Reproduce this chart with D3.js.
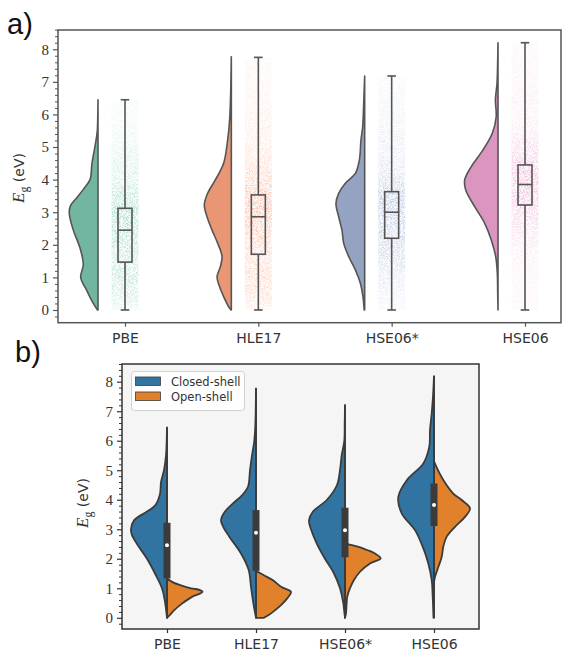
<!DOCTYPE html>
<html><head><meta charset="utf-8">
<script src="https://cdn.jsdelivr.net/npm/d3@7"></script>
<style>
html,body{margin:0;padding:0;background:#fff;}
svg{display:block;}
</style></head>
<body>
<svg id="chart" width="569" height="654"></svg>
<script>
// ---------------- DATA ----------------
const categories = ["PBE", "HLE17", "HSE06*", "HSE06"];
const yTicks = [0, 1, 2, 3, 4, 5, 6, 7, 8];
const hueLabels = ["Closed-shell", "Open-shell"];

// Panel a: kernel density (relative units) per functional
const pbeV  = [0, 0.2, 0.6, 1.0, 1.4, 1.9, 2.45, 2.95, 3.2, 3.45, 3.7, 4.0, 4.5, 4.9, 5.2, 5.5, 6.0, 6.45];
const pbeD  = [0.5, 4.7, 11.3, 17.3, 14.7, 18, 24.7, 28.7, 27.5, 21, 14.7, 8, 6, 3.7, 2, 0.7, 0.2, 0];
const hleV  = [0, 0.1, 0.41, 0.71, 1.02, 1.33, 1.64, 2.05, 2.45, 2.86, 3.22, 3.58, 3.99, 4.5, 5.21, 5.83, 6.5, 7.2, 7.77];
const hleD  = [0.3, 2.7, 7.7, 11.7, 14.3, 11, 9.3, 13.7, 19.3, 24.3, 27, 23.7, 16, 7.7, 3.7, 1.7, 0.8, 0.3, 0];
const hseSV = [0, 0.41, 0.82, 1.23, 1.64, 2.05, 2.45, 2.86, 3.27, 3.58, 3.89, 4.19, 4.6, 5.21, 5.62, 6.3, 7.18];
const hseSD = [0.5, 1.7, 4.3, 9.3, 16, 21, 22.7, 26, 28.7, 26, 19.3, 9.3, 5.3, 3.7, 2, 1, 0];
const hseV  = [0, 0.5, 1.13, 1.64, 2.15, 2.66, 3.17, 3.68, 3.99, 4.4, 4.91, 5.42, 5.93, 6.44, 6.95, 7.5, 8.2];
const hseD  = [0, 0.3, 0.7, 2.3, 6.7, 13.3, 23.3, 32.3, 33.3, 26.7, 15, 5.7, 1.8, 2.6, 1, 0.4, 0];

// Panel a: box statistics
const minA = [0, 0, 0, 0];
const q1A  = [1.47, 1.71, 2.2, 3.22];
const medA = [2.45, 2.86, 3.0, 3.85];
const q3A  = [3.12, 3.53, 3.63, 4.45];
const maxA = [6.45, 7.75, 7.18, 8.2];

// Panel b: split violins (closed-shell / open-shell)
const pbeClosedV = [0, 0.3, 0.6, 1.0, 1.5, 2.0, 2.5, 2.8, 3.0, 3.3, 3.6, 3.8, 4.2, 4.6, 5.0, 5.5, 6.0, 6.45];
const pbeClosedD = [0, 1, 2.3, 5, 12, 20, 30, 35, 36, 33, 20, 12, 7, 6, 3, 1, 0.3, 0];
const pbeOpenV   = [0, 0.1, 0.25, 0.48, 0.71, 0.82, 0.88, 0.94, 1.0, 1.1, 1.2, 1.33];
const pbeOpenD   = [0, 3, 7, 15, 25, 33, 35.6, 33, 24, 14, 6, 0];
const hleClosedV = [0, 0.5, 1.05, 1.62, 2.18, 2.75, 3.1, 3.31, 3.6, 3.88, 4.15, 4.44, 5.0, 5.5, 6.0, 6.5, 7.0, 7.77];
const hleClosedD = [0, 2.7, 5, 7.3, 15, 26.7, 33, 35, 31, 23, 14, 8, 6, 4, 1.7, 0.7, 0.3, 0];
const hleOpenV   = [0, 0.1, 0.2, 0.43, 0.65, 0.88, 1.05, 1.27, 1.44, 1.59];
const hleOpenD   = [8, 13, 17, 25, 31, 35, 25, 17, 8, 0];
const hseSClosedV = [0, 0.2, 0.5, 1.0, 1.5, 2.0, 2.5, 3.0, 3.3, 3.6, 4.0, 4.5, 5.0, 5.5, 6.0, 6.6, 7.21];
const hseSClosedD = [0, 0.7, 1.7, 5, 11, 20, 28, 34, 36, 32, 18, 8, 5, 3.3, 0.7, 0.3, 0];
const hseSOpenV   = [0, 0.15, 0.72, 1.0, 1.28, 1.56, 1.84, 2.01, 2.18, 2.35, 2.45, 2.52];
const hseSOpenD   = [0, 1, 2.3, 5, 9, 15, 25, 35.7, 30, 18, 8, 0];
const hseClosedV = [0, 0.71, 1.28, 1.84, 2.41, 2.97, 3.54, 4.1, 4.67, 5.23, 5.8, 6.36, 6.93, 7.5, 8.19];
const hseClosedD = [0.5, 1.3, 2.3, 5.7, 11.3, 19, 32.3, 35.7, 27, 10.7, 4.7, 4, 2.3, 1, 0];
const hseOpenV   = [1.2, 1.39, 1.62, 2.07, 2.41, 2.75, 3.08, 3.42, 3.71, 3.99, 4.22, 4.67, 5.0, 5.3];
const hseOpenD   = [0, 1, 3.3, 7.7, 9.3, 12.7, 21, 31, 36, 27.7, 19, 9.3, 4, 0];

// Panel b: inner box statistics (all data)
const q1B  = [1.33, 1.59, 2.05, 3.11];
const medB = [2.46, 2.88, 2.97, 3.82];
const q3B  = [3.22, 3.65, 3.73, 4.55];
const maxB = [6.45, 7.77, 7.21, 8.19];

// ---------------- HELPERS ----------------
const zip = (v, d) => v.map((x, i) => ({v: x, d: d[i]}));
const violinsA = [zip(pbeV, pbeD), zip(hleV, hleD), zip(hseSV, hseSD), zip(hseV, hseD)];
const closedB = [zip(pbeClosedV, pbeClosedD), zip(hleClosedV, hleClosedD), zip(hseSClosedV, hseSClosedD), zip(hseClosedV, hseClosedD)];
const openB = [zip(pbeOpenV, pbeOpenD), zip(hleOpenV, hleOpenD), zip(hseSOpenV, hseSOpenD), zip(hseOpenV, hseOpenD)];

const set2 = ["#66c2a5", "#fc8d62", "#8da0cb", "#e78ac3"];
const desat = (c, p) => { const h = d3.hsl(c); h.s *= p; return h.formatHex(); };
const hueColors = [desat("#1f77b4", 0.75), desat("#ff7f0e", 0.75)];

const svg = d3.select("#chart");
const defs = svg.append("defs");
const f = defs.append("filter").attr("id", "speck")
  .attr("x", 0).attr("y", 0).attr("width", 1).attr("height", 1)
  .attr("color-interpolation-filters", "sRGB");
f.append("feTurbulence").attr("type", "fractalNoise").attr("baseFrequency", 1.8)
  .attr("numOctaves", 1).attr("seed", 7).attr("result", "noise");
f.append("feColorMatrix").attr("in", "noise").attr("type", "matrix")
  .attr("values", "0 0 0 0 0  0 0 0 0 0  0 0 0 0 0  3 0 0 0 -1.1").attr("result", "mask");
f.append("feComposite").attr("in", "SourceGraphic").attr("in2", "mask").attr("operator", "in");

function yAxes(g, y, x0, color) {
  const minor = d3.range(-0.2, 8.61, 0.2).filter(t => Math.abs(t - Math.round(t)) > 0.01);
  g.append("g").attr("transform", `translate(${x0},0)`)
    .call(d3.axisLeft(y).tickValues(minor).tickSize(3).tickFormat(""))
    .call(s => s.select(".domain").remove())
    .call(s => s.selectAll("line").attr("stroke", color).attr("stroke-width", 1));
  g.append("g").attr("transform", `translate(${x0},0)`)
    .call(d3.axisLeft(y).tickValues(yTicks).tickSize(5).tickPadding(4).tickFormat(d3.format("d")))
    .call(s => s.select(".domain").remove())
    .call(s => s.selectAll("line").attr("stroke", color).attr("stroke-width", 1.2))
    .call(s => s.selectAll("text").attr("font-family", "'Liberation Serif', serif")
      .attr("font-size", 15).attr("fill", "#333"));
}
function xAxis(g, x, y0, color) {
  g.append("g").attr("transform", `translate(0,${y0})`)
    .call(d3.axisBottom(x).tickSize(4).tickPadding(6))
    .call(s => s.select(".domain").remove())
    .call(s => s.selectAll("line").attr("stroke", color).attr("stroke-width", 1.2))
    .call(s => s.selectAll("text").attr("font-family", "'DejaVu Sans', sans-serif")
      .attr("font-size", 14).attr("fill", "#333"));
}
function yLabel(g, cx, cy) {
  const t = g.append("text").attr("transform", `translate(${cx},${cy}) rotate(-90)`)
    .attr("text-anchor", "middle").attr("fill", "#333");
  t.append("tspan").attr("font-family", "'Liberation Serif', serif").attr("font-style", "italic")
    .attr("font-size", 17).text("E");
  t.append("tspan").attr("font-family", "'Liberation Serif', serif").attr("font-size", 12)
    .attr("dy", 4).text("g");
  t.append("tspan").attr("font-family", "'DejaVu Sans', sans-serif").attr("font-size", 14)
    .attr("dy", -4).text(" (eV)");
}

// ---------------- PANEL A ----------------
const A = {l: 58, r: 561, t: 30, b: 322.7};
const xa = d3.scalePoint().domain(categories).range([125, 525]);
const ya = d3.scaleLinear().domain([-0.39, 8.59]).range([A.b, A.t]);
const wa = d3.scaleLinear().domain([0, 34]).range([0, 34]);
const ga = svg.append("g");

categories.forEach((c, i) => {
  const cx = xa(c);
  const base = cx - 27;
  // jittered-point strip, rendered as density-shaded speckle band
  const dens = violinsA[i];
  const dmax = d3.max(dens, d => d.d);
  const gid = "grad" + i;
  const lg = defs.append("linearGradient").attr("id", gid).attr("gradientUnits", "userSpaceOnUse")
    .attr("x1", 0).attr("x2", 0).attr("y1", ya(0)).attr("y2", ya(maxA[i]));
  dens.forEach(d => {
    lg.append("stop").attr("offset", d.v / maxA[i])
      .attr("stop-color", set2[i]).attr("stop-opacity", 0.08 + Math.pow(d.d / dmax, 0.7) * 0.45);
  });
  ga.append("rect").attr("x", cx - 13.5).attr("width", 27)
    .attr("y", ya(maxA[i])).attr("height", ya(0) - ya(maxA[i]))
    .attr("fill", `url(#${gid})`).attr("filter", "url(#speck)");

  // half violin
  const area = d3.area().curve(d3.curveCatmullRom.alpha(0.5))
    .y(d => ya(d.v)).x0(base).x1(d => base - wa(Math.max(0, d.d)));
  ga.append("path").datum(dens).attr("d", area)
    .attr("fill", desat(set2[i], 0.75)).attr("stroke", "#555").attr("stroke-width", 1.6)
    .attr("stroke-linejoin", "round");

  // box plot
  const bw = 7, cw = 4.3;
  const bg = ga.append("g").attr("stroke", "#555").attr("stroke-width", 1.6).attr("fill", "none");
  bg.append("line").attr("x1", cx).attr("x2", cx).attr("y1", ya(minA[i])).attr("y2", ya(q1A[i]));
  bg.append("line").attr("x1", cx).attr("x2", cx).attr("y1", ya(q3A[i])).attr("y2", ya(maxA[i]));
  bg.append("line").attr("x1", cx - cw).attr("x2", cx + cw).attr("y1", ya(minA[i])).attr("y2", ya(minA[i]));
  bg.append("line").attr("x1", cx - cw).attr("x2", cx + cw).attr("y1", ya(maxA[i])).attr("y2", ya(maxA[i]));
  bg.append("rect").attr("x", cx - bw).attr("width", 2 * bw)
    .attr("y", ya(q3A[i])).attr("height", ya(q1A[i]) - ya(q3A[i]));
  bg.append("line").attr("x1", cx - bw).attr("x2", cx + bw).attr("y1", ya(medA[i])).attr("y2", ya(medA[i]));
});

ga.append("rect").attr("x", A.l).attr("y", A.t).attr("width", A.r - A.l).attr("height", A.b - A.t)
  .attr("fill", "none").attr("stroke", "#555").attr("stroke-width", 1.5);
yAxes(ga, ya, A.l, "#555");
xAxis(ga, xa, A.b, "#555");
yLabel(ga, 24, 178);
svg.append("text").attr("x", 7).attr("y", 34).attr("font-family", "'Liberation Sans', Arial, sans-serif")
  .attr("font-size", 29).attr("fill", "#111").text("a)");

// ---------------- PANEL B ----------------
const B = {l: 122, r: 479, t: 364, b: 629};
const xb = d3.scalePoint().domain(categories).range([167, 434]);
const yb = d3.scaleLinear().domain([-0.38, 8.6]).range([B.b, B.t]);
const wb = d3.scaleLinear().domain([0, 36]).range([0, 36]);
const gb = svg.append("g");
gb.append("rect").attr("x", B.l).attr("y", B.t).attr("width", B.r - B.l).attr("height", B.b - B.t)
  .attr("fill", "#f5f5f5");

categories.forEach((c, i) => {
  const cx = xb(c);
  const left = d3.area().curve(d3.curveCatmullRom.alpha(0.5))
    .y(d => yb(d.v)).x0(cx).x1(d => cx - wb(Math.max(0, d.d)));
  const right = d3.area().curve(d3.curveCatmullRom.alpha(0.5))
    .y(d => yb(d.v)).x0(cx).x1(d => cx + wb(Math.max(0, d.d)));
  gb.append("path").datum(closedB[i]).attr("d", left)
    .attr("fill", hueColors[0]).attr("stroke", "#3b3b3b").attr("stroke-width", 1.8)
    .attr("stroke-linejoin", "round");
  gb.append("path").datum(openB[i]).attr("d", right)
    .attr("fill", hueColors[1]).attr("stroke", "#3b3b3b").attr("stroke-width", 1.8)
    .attr("stroke-linejoin", "round");
  // inner box
  gb.append("line").attr("x1", cx).attr("x2", cx).attr("y1", yb(0)).attr("y2", yb(maxB[i]))
    .attr("stroke", "#3b3b3b").attr("stroke-width", 1.8);
  gb.append("rect").attr("x", cx - 3.5).attr("width", 7)
    .attr("y", yb(q3B[i])).attr("height", yb(q1B[i]) - yb(q3B[i])).attr("fill", "#3b3b3b");
  gb.append("circle").attr("cx", cx).attr("cy", yb(medB[i])).attr("r", 2).attr("fill", "#fff");
});

gb.append("rect").attr("x", B.l).attr("y", B.t).attr("width", B.r - B.l).attr("height", B.b - B.t)
  .attr("fill", "none").attr("stroke", "#333").attr("stroke-width", 1.5);
yAxes(gb, yb, B.l, "#333");
xAxis(gb, xb, B.b, "#333");
yLabel(gb, 88, 503);
svg.append("text").attr("x", 15).attr("y", 362).attr("font-family", "'Liberation Sans', Arial, sans-serif")
  .attr("font-size", 29).attr("fill", "#111").text("b)");

// legend
const lg = gb.append("g");
lg.append("rect").attr("x", 131.5).attr("y", 371.5).attr("width", 113).attr("height", 39).attr("rx", 3)
  .attr("fill", "#fff").attr("fill-opacity", 0.85).attr("stroke", "#d0d0d0");
hueLabels.forEach((t, i) => {
  const yy = 377 + i * 15;
  lg.append("rect").attr("x", 135.5).attr("y", yy).attr("width", 25).attr("height", 8.5)
    .attr("fill", hueColors[i]).attr("stroke", "#3b3b3b").attr("stroke-width", 0.8);
  lg.append("text").attr("x", 171).attr("y", yy + 8.5).attr("font-family", "'DejaVu Sans', sans-serif")
    .attr("font-size", 11.5).attr("fill", "#333").text(t);
});
</script>
</body></html>
